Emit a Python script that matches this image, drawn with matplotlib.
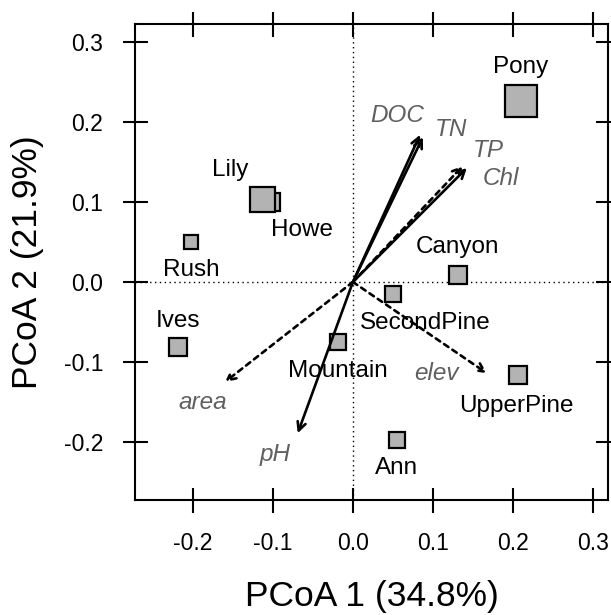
import matplotlib
matplotlib.use("Agg")
import matplotlib.pyplot as plt

plt.rcParams['font.family'] = ['Liberation Sans', 'DejaVu Sans']

# Sites
sites = ["Pony", "Lily", "Howe", "Rush", "Ives", "Mountain", "SecondPine", "Canyon", "UpperPine", "Ann"]
site_x = [0.210, -0.114, -0.1025, -0.2025, -0.219, -0.019, 0.050, 0.131, 0.206, 0.055]
site_y = [0.226, 0.104, 0.100, 0.050, -0.081, -0.075, -0.015, 0.009, -0.116, -0.1975]
site_size = [22.4, 18.0, 13.0, 10.0, 13.0, 11.0, 11.5, 13.0, 13.5, 11.5]
label_x = [0.210, -0.154, -0.064, -0.2025, -0.219, -0.019, 0.090, 0.131, 0.205, 0.055]
label_y = [0.269, 0.140, 0.065, 0.015, -0.049, -0.111, -0.051, 0.044, -0.155, -0.2325]

# Environmental vectors
vars_ = ["DOC", "TN", "TP", "Chl", "pH", "area", "elev"]
vec_x = [0.084, 0.0875, 0.1425, 0.1375, -0.069, -0.160, 0.1675]
vec_y = [0.184, 0.181, 0.1425, 0.145, -0.189, -0.125, -0.114]
vec_dashed = [False, False, False, True, False, True, True]
vlab_x = [0.056, 0.1225, 0.169, 0.185, -0.0975, -0.1875, 0.105]
vlab_y = [0.2075, 0.191, 0.164, 0.129, -0.216, -0.151, -0.114]

xticks = [-0.2, -0.1, 0.0, 0.1, 0.2, 0.3]
yticks = [-0.2, -0.1, 0.0, 0.1, 0.2, 0.3]

fig = plt.figure(figsize=(6.11, 6.15), dpi=100)
ax = fig.add_axes([0.221, 0.187, 0.774, 0.774])
ax.set_xlim(-0.2725, 0.319)
ax.set_ylim(-0.2725, 0.3225)

ax.axhline(0, color='black', lw=1.0, ls=(0, (1, 2.5)), zorder=1)
ax.axvline(0, color='black', lw=1.0, ls=(0, (1, 2.5)), zorder=1)

for i in range(len(sites)):
    z = 3 if sites[i] != "Howe" else 2
    ax.plot(site_x[i], site_y[i], marker='s', ms=site_size[i], mfc='#b3b3b3',
            mec='black', mew=1.6, ls='none', zorder=z)
    ax.text(label_x[i], label_y[i], sites[i], ha='center', va='center',
            fontsize=17.5, color='black', zorder=5)

for i in range(len(vars_)):
    ls = (0, (2.0, 1.8)) if vec_dashed[i] else '-'
    ax.annotate("", xy=(vec_x[i], vec_y[i]), xytext=(0, 0),
                arrowprops=dict(arrowstyle='->,head_length=0.6,head_width=0.3',
                                lw=1.9, color='black', linestyle=ls,
                                shrinkA=0, shrinkB=0), zorder=4)
    ax.text(vlab_x[i], vlab_y[i], vars_[i], ha='center', va='center',
            fontsize=17.5, color='#606060', style='italic', zorder=5)

ax.set_xticks(xticks)
ax.set_yticks(yticks)
ax.set_xticklabels([f"{t:.1f}" for t in xticks])
ax.set_yticklabels([f"{t:.1f}" for t in yticks])
ax.tick_params(direction='inout', length=18, width=1.5, labelsize=16.5,
               top=True, right=True, pad=14)
ax.tick_params(axis='x', which='both', labeltop=False)
ax.tick_params(axis='y', which='both', labelright=False)
for s in ax.spines.values():
    s.set_linewidth(1.5)

ax.set_xlabel("PCoA 1 (34.8%)", fontsize=25.5, labelpad=18)
ax.set_ylabel("PCoA 2 (21.9%)", fontsize=25.5, labelpad=14)

fig.savefig("out.png", dpi=100)
